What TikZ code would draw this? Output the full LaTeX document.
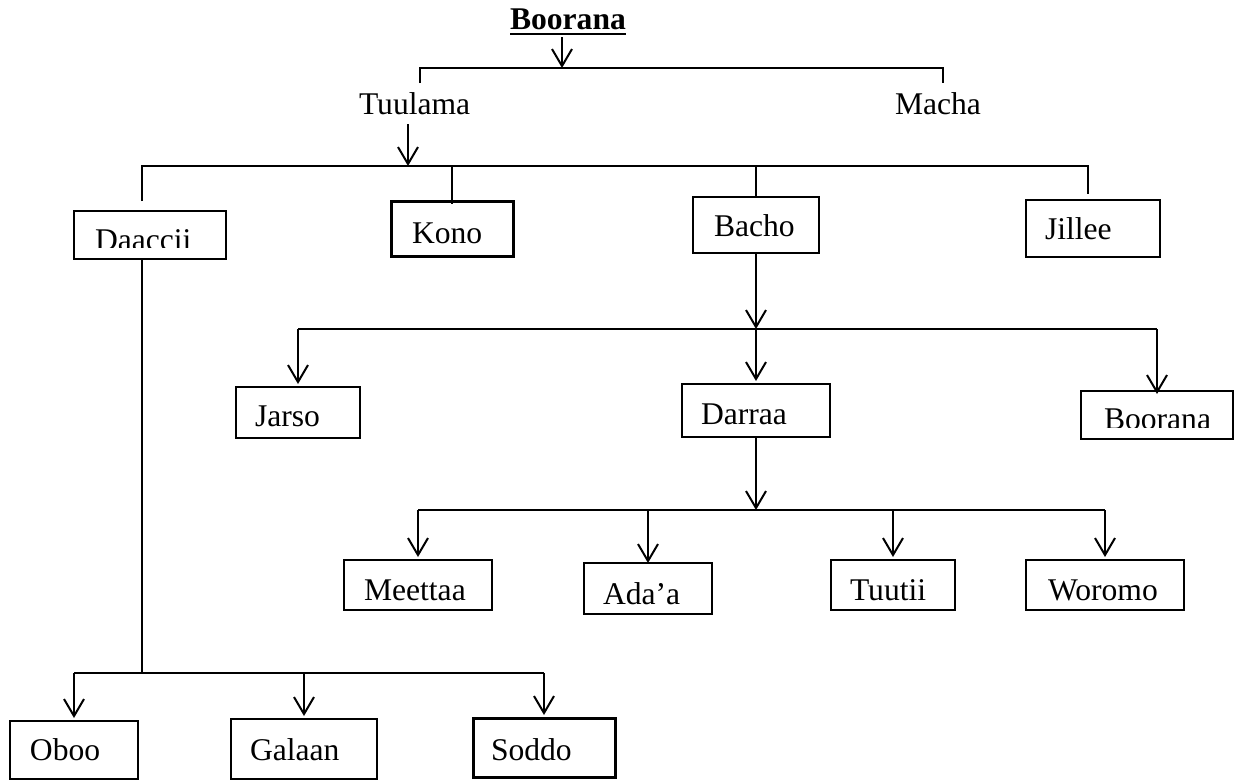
\documentclass[tikz,border=0pt]{standalone}
\usepackage{fontspec}
\setmainfont{Liberation Serif}
\usetikzlibrary{arrows.meta}
\begin{document}
\begin{tikzpicture}[x=1pt,y=-1pt,
  box/.style={draw, line width=2pt, inner sep=0pt, outer sep=0pt},
  thickbox/.style={box, line width=3pt},
  txt/.style={inner sep=0pt, outer sep=0pt, anchor=base west, font=\fontsize{31.6}{36}\selectfont},
  ln/.style={line width=2pt},
  arr/.style={ln, -{Straight Barb[length=17pt,width=20pt,line width=2pt]}},
  arrb/.style={arr, shorten >=3pt}]
\fill[white] (0,0) rectangle (1235,780);
\useasboundingbox (0,0) rectangle (1235,780);

% top level
\node[txt, font=\fontsize{31.6}{36}\selectfont\bfseries] (title) at (510,29) {Boorana};
\draw[line width=2pt] ([yshift=-5pt]title.base west) -- ([yshift=-5pt]title.base east);
\node[txt] (tuulama) at (359,114) {Tuulama};
\node[txt] (macha) at (895,114) {Macha};
\coordinate (t0) at (562,37);
\coordinate (t1) at (562,68);
\draw[arr] (t0) -- (t1);
\coordinate (tl) at (420,83);
\coordinate (tr) at (943,83);
\draw[ln] (tl) -- (tl |- t1) -- (tr |- t1) -- (tr);

% second level
\coordinate (u0) at (408,124);
\coordinate (u1) at (408,166);
\draw[arr] (u0) -- (u1);
\node[box, minimum width=152pt, minimum height=48pt] (daaccii) at (150,235) {};
\node[thickbox, minimum width=122pt, minimum height=55pt] (kono) at (452,228.5) {};
\node[box, minimum width=126pt, minimum height=56pt] (bacho) at (756,225) {};
\node[box, minimum width=134pt, minimum height=57pt] (jillee) at (1093,228.5) {};
\begin{scope}
\clip (daaccii.north west) rectangle (226,247.5);
\node[txt] (daacciiT) at (95,250) {Daaccii};
\end{scope}
\node[txt] (konoT) at (412,243) {Kono};
\node[txt] (bachoT) at (714,236) {Bacho};
\node[txt] (jilleeT) at (1045,239) {Jillee};
\coordinate (b1l) at (142,166);
\coordinate (b1r) at (1088,166);
\draw[ln] (142,201) -- (b1l) -- (b1r) -- (1088,194);
\draw[ln] (kono.north |- b1l) -- ([yshift=-3pt]kono.north);
\draw[ln] (bacho.north |- b1l) -- ([yshift=-1pt]bacho.north);

% Bacho branch
\coordinate (b2) at (756,329);
\draw[arr] (bacho.south) -- (b2);
\node[box, minimum width=124pt, minimum height=51pt] (jarso) at (298,412.5) {};
\node[box, minimum width=148pt, minimum height=53pt] (darraa) at (756,410.5) {};
\node[box, minimum width=152pt, minimum height=48pt] (boorana) at (1157,415) {};
\node[txt] (jarsoT) at (255,426) {Jarso};
\node[txt] (darraaT) at (701,424) {Darraa};
\begin{scope}
\clip (boorana.north west) rectangle (1233,427.5);
\node[txt] (booranaT) at (1104,429) {Boorana};
\end{scope}
\draw[ln] (jarso.north |- b2) -- (boorana.north |- b2);
\draw[arrb] (jarso.north |- b2) -- (jarso.north);
\draw[arrb] (b2) -- (darraa.north);
\draw[arrb] (boorana.north |- b2) -- ([yshift=-6pt]boorana.north);

% Darraa branch
\coordinate (b3) at (756,510);
\draw[arr] (darraa.south) -- (b3);
\node[box, minimum width=148pt, minimum height=50pt] (meettaa) at (418,585) {};
\node[box, minimum width=128pt, minimum height=51pt] (adaa) at (648,588.5) {};
\node[box, minimum width=124pt, minimum height=50pt] (tuutii) at (893,585) {};
\node[box, minimum width=158pt, minimum height=50pt] (woromo) at (1105,585) {};
\node[txt] (meettaaT) at (364,600.5) {Meettaa};
\node[txt] (adaaT) at (603,604) {Ada’a};
\node[txt] (tuutiiT) at (850,600.5) {Tuutii};
\node[txt] (woromoT) at (1048,600.5) {Woromo};
\draw[ln] (meettaa.north |- b3) -- (woromo.north |- b3);
\draw[arrb] (meettaa.north |- b3) -- (meettaa.north);
\draw[arrb] (adaa.north |- b3) -- ([yshift=-3pt]adaa.north);
\draw[arrb] (tuutii.north |- b3) -- (tuutii.north);
\draw[arrb] (woromo.north |- b3) -- (woromo.north);

% Daaccii branch
\coordinate (b4) at (142,673);
\draw[ln] (142,259) -- (b4);
\node[box, minimum width=128pt, minimum height=58pt] (oboo) at (74,750) {};
\node[box, minimum width=146pt, minimum height=60pt] (galaan) at (304,749) {};
\node[thickbox, minimum width=142pt, minimum height=59pt] (soddo) at (544,747.5) {};
\node[txt] (obooT) at (30,760) {Oboo};
\node[txt] (galaanT) at (250,760) {Galaan};
\node[txt] (soddoT) at (491,760) {Soddo};
\draw[ln] (oboo.north |- b4) -- (soddo.north |- b4);
\draw[arrb] (oboo.north |- b4) -- (oboo.north);
\draw[arrb] (galaan.north |- b4) -- (galaan.north);
\draw[arrb] (soddo.north |- b4) -- (soddo.north);
\end{tikzpicture}
\end{document}
